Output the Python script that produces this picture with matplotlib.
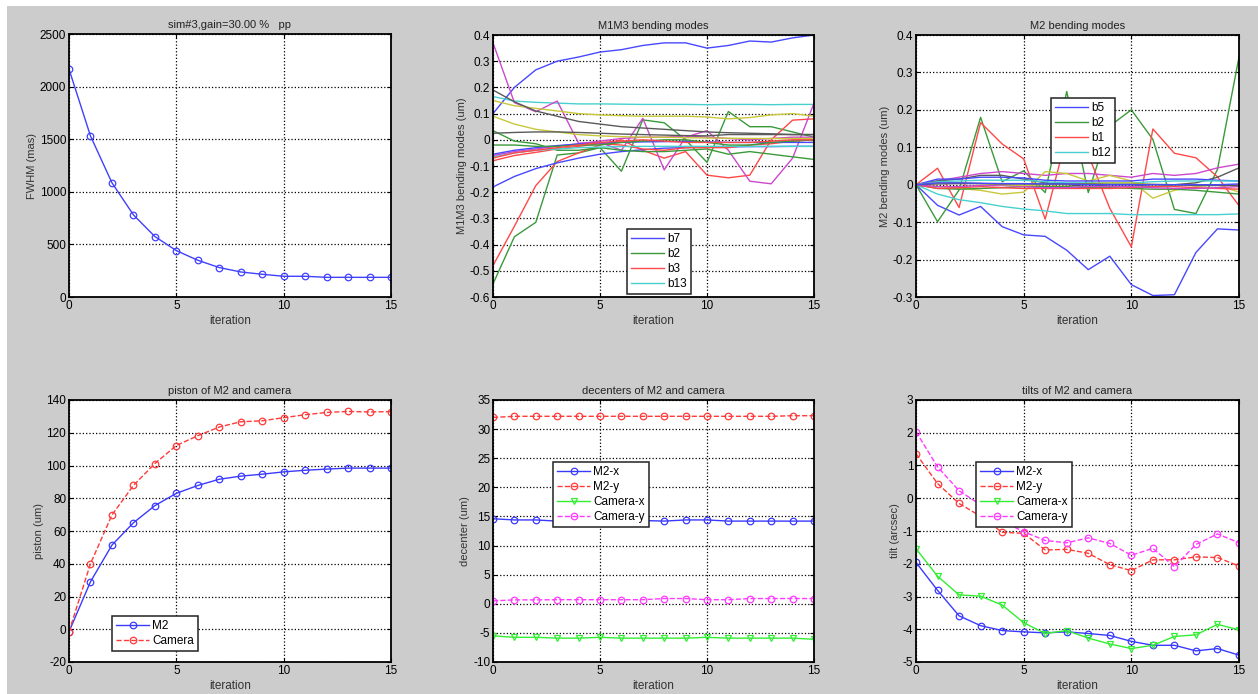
import matplotlib
matplotlib.use("Agg")
import matplotlib.pyplot as plt
from matplotlib.ticker import FuncFormatter, FixedLocator
from matplotlib.patches import Rectangle

plt.rcParams['font.family'] = ['Liberation Sans', 'DejaVu Sans']
plt.rcParams['font.size'] = 8

iterations = list(range(16))

# ---- FWHM ----
fwhm = [2166, 1531, 1086, 781, 575, 441, 349, 280, 238, 216, 197, 197, 187, 187, 187, 187]

# ---- piston ----
piston_m2 = [-1.5, 29, 51.4, 65, 75.5, 83, 87.8, 91.6, 93.5, 94.7, 96.1, 97.1, 97.8, 98.4, 98.4, 98.4]
piston_cam = [-1.5, 40, 69.8, 87.8, 101.2, 112.2, 118.2, 123.5, 126.7, 127.3, 129.2, 131, 132.4, 133, 132.7, 132.9]

# ---- decenters ----
dec_m2x = [14.6, 14.4, 14.4, 14.2, 14.2, 14.3, 14.3, 14.3, 14.2, 14.4, 14.4, 14.2, 14.2, 14.2, 14.2, 14.2]
dec_m2y = [32.0, 32.2, 32.2, 32.2, 32.2, 32.2, 32.2, 32.2, 32.2, 32.2, 32.2, 32.2, 32.2, 32.2, 32.3, 32.3]
dec_camx = [-5.5, -5.76, -5.76, -5.9, -5.9, -5.76, -5.9, -5.9, -5.9, -5.9, -5.76, -5.9, -5.9, -5.9, -5.9, -6.1]
dec_camy = [0.5, 0.67, 0.67, 0.7, 0.7, 0.7, 0.7, 0.7, 0.9, 0.9, 0.7, 0.7, 0.9, 0.9, 0.9, 0.9]

# ---- tilts ----
tilt_m2x = [-1.96, -2.81, -3.59, -3.89, -4.04, -4.08, -4.11, -4.08, -4.13, -4.19, -4.37, -4.49, -4.49, -4.66, -4.59, -4.79]
tilt_m2y = [1.36, 0.45, -0.16, -0.55, -1.04, -1.07, -1.58, -1.56, -1.68, -2.03, -2.21, -1.88, -1.88, -1.79, -1.81, -2.07]
tilt_camx = [-1.54, -2.38, -2.95, -2.99, -3.26, -3.80, -4.13, -4.04, -4.27, -4.45, -4.59, -4.49, -4.22, -4.17, -3.85, -4.02]
tilt_camy = [2.03, 0.96, 0.23, -0.2, -0.7, -1.02, -1.29, -1.36, -1.21, -1.38, -1.74, -1.53, -2.09, -1.41, -1.09, -1.36]

# ---- M1M3 bending modes ----
m1m3_s0 = [0.10, 0.20, 0.267, 0.30, 0.316, 0.335, 0.344, 0.36, 0.37, 0.37, 0.35, 0.36, 0.377, 0.373, 0.389, 0.40]
m1m3_s1 = [-0.55, -0.37, -0.315, -0.058, -0.05, -0.03, -0.12, 0.076, 0.065, 0.0, -0.086, 0.108, 0.05, 0.05, 0.03, 0.01]
m1m3_s2 = [-0.48, -0.33, -0.175, -0.083, -0.05, -0.02, 0.0, -0.04, -0.07, -0.045, -0.135, -0.145, -0.135, 0.0, 0.075, 0.08]
m1m3_s3 = [0.165, 0.148, 0.143, 0.14, 0.137, 0.137, 0.136, 0.135, 0.135, 0.135, 0.134, 0.135, 0.135, 0.134, 0.135, 0.135]
m1m3_s4 = [0.37, 0.142, 0.107, 0.148, -0.013, -0.01, -0.04, 0.082, -0.115, 0.01, 0.035, -0.04, -0.158, -0.168, -0.07, 0.14]
m1m3_s5 = [0.15, 0.13, 0.12, 0.11, 0.10, 0.095, 0.092, 0.09, 0.09, 0.09, 0.087, 0.08, 0.085, 0.095, 0.10, 0.09]
m1m3_s6 = [0.19, 0.145, 0.11, 0.09, 0.07, 0.06, 0.05, 0.045, 0.04, 0.035, 0.03, 0.027, 0.025, 0.023, 0.02, 0.02]
m1m3_s7 = [-0.18, -0.14, -0.11, -0.088, -0.07, -0.055, -0.045, -0.038, -0.032, -0.03, -0.028, -0.027, -0.026, -0.026, -0.025, -0.025]
m1m3_s8 = [0.035, -0.005, -0.015, -0.04, -0.04, -0.03, -0.04, -0.045, -0.045, -0.04, -0.035, -0.055, -0.045, -0.055, -0.065, -0.075]
m1m3_s9 = [-0.08, -0.06, -0.048, -0.035, -0.025, -0.015, -0.02, -0.035, -0.04, -0.03, -0.03, -0.03, -0.02, -0.015, -0.005, 0.0]
m1m3_s10 = [-0.065, -0.05, -0.04, -0.035, -0.03, -0.028, -0.026, -0.025, -0.025, -0.025, -0.025, -0.025, -0.025, -0.025, -0.025, -0.025]
m1m3_s11 = [-0.06, -0.045, -0.035, -0.025, -0.015, -0.005, 0.005, 0.01, 0.01, 0.015, 0.01, 0.005, 0.0, 0.005, 0.01, 0.01]
m1m3_s12 = [0.09, 0.06, 0.04, 0.03, 0.02, 0.015, 0.012, 0.01, 0.01, 0.008, 0.007, 0.006, 0.005, 0.005, 0.005, 0.005]
m1m3_s13 = [0.025, 0.028, 0.03, 0.03, 0.028, 0.025, 0.022, 0.02, 0.018, 0.016, 0.015, 0.02, 0.02, 0.02, 0.02, 0.02]
m1m3_s14 = [-0.055, -0.04, -0.03, -0.022, -0.016, -0.012, -0.01, -0.008, -0.007, -0.006, -0.008, -0.01, -0.01, -0.01, -0.01, -0.01]
m1m3_s15 = [-0.02, -0.02, -0.025, -0.025, -0.02, -0.02, -0.01, -0.005, 0.0, 0.0, -0.01, -0.02, -0.02, -0.01, -0.005, 0.0]
m1m3_s16 = [-0.07, -0.05, -0.04, -0.03, -0.02, -0.01, -0.005, 0.0, -0.005, -0.01, -0.01, -0.01, -0.01, -0.005, 0.0, 0.0]
m1m3_series = [m1m3_s0, m1m3_s1, m1m3_s2, m1m3_s3, m1m3_s4, m1m3_s5, m1m3_s6, m1m3_s7, m1m3_s8,
               m1m3_s9, m1m3_s10, m1m3_s11, m1m3_s12, m1m3_s13, m1m3_s14, m1m3_s15, m1m3_s16]
m1m3_legend = ['b7', 'b2', 'b3', 'b13']

# ---- M2 bending modes ----
m2_s0 = [0, -0.055, -0.081, -0.058, -0.112, -0.134, -0.138, -0.175, -0.227, -0.191, -0.267, -0.296, -0.294, -0.181, -0.118, -0.121]
m2_s1 = [0, -0.099, -0.014, 0.18, 0.008, 0.037, -0.021, 0.249, -0.021, 0.157, 0.2, 0.121, -0.066, -0.077, 0.041, 0.341]
m2_s2 = [0, 0.044, -0.061, 0.166, 0.109, 0.069, -0.092, 0.13, 0.08, -0.063, -0.166, 0.149, 0.084, 0.072, 0.021, -0.056]
m2_s3 = [0, -0.025, -0.04, -0.048, -0.058, -0.065, -0.07, -0.077, -0.077, -0.077, -0.08, -0.08, -0.08, -0.08, -0.08, -0.078]
m2_s4 = [0, 0.01, 0.02, 0.03, 0.035, 0.03, 0.025, 0.03, 0.03, 0.025, 0.02, 0.03, 0.025, 0.03, 0.045, 0.055]
m2_s5 = [0, -0.005, -0.01, -0.015, -0.025, -0.02, 0.035, 0.03, 0.01, 0.025, 0.01, -0.036, -0.015, -0.005, 0.0, -0.02]
m2_s6 = [0, 0.01, 0.015, 0.025, 0.025, 0.015, 0.005, 0.0, -0.005, 0.0, 0.0, -0.005, 0.0, 0.005, 0.02, 0.045]
m2_s7 = [0, 0.015, 0.015, 0.02, 0.02, 0.018, 0.012, 0.01, 0.01, 0.01, 0.01, 0.015, 0.015, 0.015, 0.012, 0.01]
m2_s8 = [0, -0.01, -0.012, -0.01, -0.008, -0.005, -0.005, -0.005, -0.008, -0.008, -0.01, -0.012, -0.012, -0.015, -0.02, -0.025]
m2_s9 = [0, -0.01, -0.008, -0.005, -0.008, -0.01, -0.01, -0.01, -0.01, -0.01, -0.008, -0.005, -0.005, -0.008, -0.01, -0.012]
m2_s10 = [0, 0.008, 0.01, 0.012, 0.012, 0.012, 0.008, 0.005, 0.005, 0.005, 0.005, 0.008, 0.01, 0.01, 0.01, 0.01]
m2_s11 = [0, -0.005, -0.005, -0.002, -0.002, -0.005, -0.008, -0.008, -0.005, -0.005, -0.005, -0.008, -0.01, -0.01, -0.008, -0.005]
m2_s12 = [0, 0.005, 0.005, 0.003, 0.0, -0.002, 0.0, 0.0, 0.003, 0.005, 0.005, 0.0, 0.0, 0.0, 0.0, 0.0]
m2_s13 = [0, 0.002, 0.003, 0.003, 0.002, 0.002, 0.002, 0.002, 0.002, 0.001, 0.001, 0.001, 0.0, -0.002, -0.002, -0.002]
m2_s14 = [0, 0.005, 0.005, 0.004, 0.003, 0.003, 0.002, 0.002, 0.0, 0.0, 0.0, 0.0, 0.0, 0.0, 0.0, 0.002]
m2_series = [m2_s0, m2_s1, m2_s2, m2_s3, m2_s4, m2_s5, m2_s6, m2_s7, m2_s8, m2_s9,
             m2_s10, m2_s11, m2_s12, m2_s13, m2_s14]
m2_legend = ['b5', 'b2', 'b1', 'b12']

cycle = ['#4848ff', '#3a9a3a', '#ff4848', '#48d0d0', '#cc48cc', '#c8c83a', '#5a5a5a']

W, H = 1258, 694
fig = plt.figure(figsize=(W / 100, H / 100), dpi=100, facecolor='white')
fig.patches.append(Rectangle((7 / W, 0), 1 - 7 / W, 1 - 6 / H, transform=fig.transFigure,
                             facecolor='#cccccc', edgecolor='none', zorder=-10))


def make_ax(x0, y0, x1, y1):
    return fig.add_axes([x0 / W, 1 - y1 / H, (x1 - x0) / W, (y1 - y0) / H])


def fmt(v, pos):
    s = ('%.1f' % v) if abs(v) < 1 and abs(v) > 1e-9 else ('%g' % round(v, 6))
    return s


def style(ax, yticks, title, ylabel, ylim):
    ax.set_xlim(0, 15)
    ax.set_ylim(*ylim)
    ax.xaxis.set_major_locator(FixedLocator([0, 5, 10, 15]))
    ax.yaxis.set_major_locator(FixedLocator(yticks))
    ax.yaxis.set_major_formatter(FuncFormatter(fmt))
    ax.grid(True, color='black', linestyle=':', linewidth=0.9)
    ax.tick_params(direction='in', top=True, right=True, length=3, width=0.8,
                   labelsize=8.5, pad=2, colors='black')
    for s in ax.spines.values():
        s.set_linewidth(1.3)
        s.set_color('black')
    ax.set_title(title, fontsize=8, pad=4, color='#222222')
    ax.set_ylabel(ylabel, fontsize=8, labelpad=2, color='#333333')
    ax.set_xlabel('iteration', fontsize=8.5, labelpad=2, color='#333333')
    ax.set_facecolor('white')


def legend(ax, x, y):
    leg = ax.legend(loc='upper left', bbox_to_anchor=(x / W, 1 - y / H),
                    bbox_transform=fig.transFigure, fancybox=False, shadow=False,
                    framealpha=1, edgecolor='#222222', fontsize=8.5, borderaxespad=0,
                    handlelength=2.8, labelspacing=0.25, borderpad=0.35, handletextpad=0.25)
    leg.get_frame().set_linewidth(1.1)
    return leg


mk = dict(markersize=4.7, markerfacecolor='none', markeredgewidth=0.9, linewidth=1.0)

# Panel 1
ax1 = make_ax(69, 34, 391, 297)
ax1.plot(iterations, fwhm, 'o-', color='#4040ff', **mk)
style(ax1, [0, 500, 1000, 1500, 2000, 2500], 'sim#3,gain=30.00 %   pp', 'FWHM (mas)', (0, 2500))

# Panel 2
ax2 = make_ax(493, 35, 814, 297)
for i, s in enumerate(m1m3_series):
    lbl = m1m3_legend[i] if i < len(m1m3_legend) else '_nolegend_'
    ax2.plot(iterations, s, '-', color=cycle[i % 7], linewidth=1.0, label=lbl)
style(ax2, [round(-0.6 + 0.1 * k, 1) for k in range(11)], 'M1M3 bending modes',
      'M1M3 bending modes (um)', (-0.6, 0.4))
legend(ax2, 627, 229)

# Panel 3
ax3 = make_ax(916, 35, 1239, 297)
for i, s in enumerate(m2_series):
    lbl = m2_legend[i] if i < len(m2_legend) else '_nolegend_'
    ax3.plot(iterations, s, '-', color=cycle[i % 7], linewidth=1.0, label=lbl)
style(ax3, [round(-0.3 + 0.1 * k, 1) for k in range(8)], 'M2 bending modes',
      'M2 bending modes (um)', (-0.3, 0.4))
legend(ax3, 1051, 98)

# Panel 4
ax4 = make_ax(69, 400, 391, 662)
ax4.plot(iterations, piston_m2, 'o-', color='#3a3aff', label='M2', **mk)
ax4.plot(iterations, piston_cam, 'o--', color='#ff3a3a', label='Camera', **mk)
style(ax4, list(range(-20, 141, 20)), 'piston of M2 and camera', 'piston (um)', (-20, 140))
legend(ax4, 112, 616)

# Panel 5
ax5 = make_ax(493, 400, 814, 662)
ax5.plot(iterations, dec_m2x, 'o-', color='#3a3aff', label='M2-x', **mk)
ax5.plot(iterations, dec_m2y, 'o--', color='#ff3a3a', label='M2-y', **mk)
ax5.plot(iterations, dec_camx, 'v-', color='#33ee33', label='Camera-x', **mk)
ax5.plot(iterations, dec_camy, 'o--', color='#ff3aff', label='Camera-y', **mk)
style(ax5, list(range(-10, 36, 5)), 'decenters of M2 and camera', 'decenter (um)', (-10, 35))
legend(ax5, 553, 462)

# Panel 6
ax6 = make_ax(916, 400, 1239, 662)
ax6.plot(iterations, tilt_m2x, 'o-', color='#3a3aff', label='M2-x', **mk)
ax6.plot(iterations, tilt_m2y, 'o--', color='#ff3a3a', label='M2-y', **mk)
ax6.plot(iterations, tilt_camx, 'v-', color='#33ee33', label='Camera-x', **mk)
ax6.plot(iterations, tilt_camy, 'o--', color='#ff3aff', label='Camera-y', **mk)
style(ax6, list(range(-5, 4)), 'tilts of M2 and camera', 'tilt (arcsec)', (-5, 3))
legend(ax6, 976, 462)

fig.savefig('out.png', dpi=100, facecolor=fig.get_facecolor())
